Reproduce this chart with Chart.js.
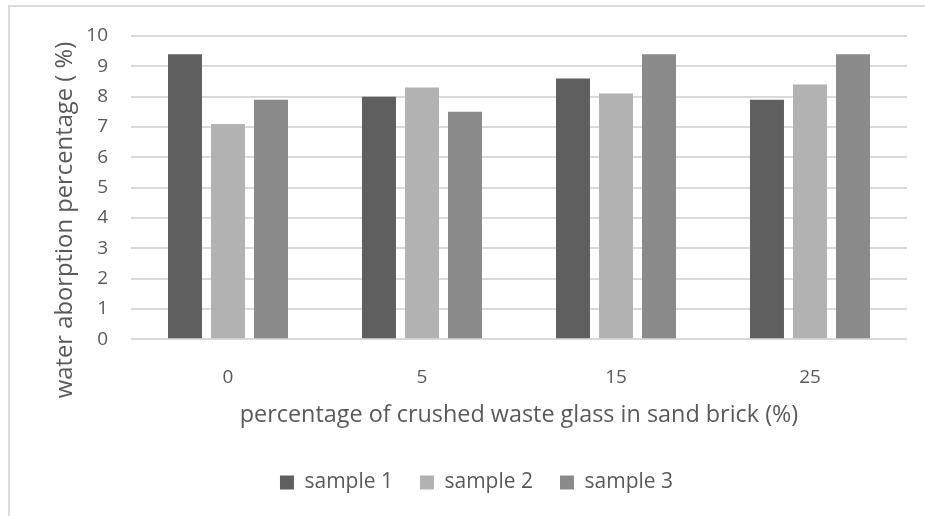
<!DOCTYPE html>
<html>
<head>
<meta charset="utf-8">
<script src="https://cdn.jsdelivr.net/npm/chart.js@4.4.1/dist/chart.umd.min.js"></script>
<style>
  html, body { margin: 0; padding: 0; background: #fff; }
  #wrap { position: relative; width: 925px; height: 516px; overflow: hidden; }
  #frame { position: absolute; left: 8px; top: 5px; width: 940px; height: 540px;
           border-left: 2px solid #dcdcdc; border-top: 2px solid #dcdcdc; box-sizing: border-box; }
  canvas { position: absolute; left: 0; top: 0; }
</style>
</head>
<body>
<div id="wrap">
  <div id="frame"></div>
  <canvas id="c" width="925" height="516"></canvas>
</div>
<script>
const categories = ["0", "5", "15", "25"];
const sample1 = [9.4, 8.0, 8.6, 7.9];
const sample2 = [7.1, 8.3, 8.1, 8.4];
const sample3 = [7.9, 7.5, 9.4, 9.4];
const seriesNames = ["sample 1", "sample 2", "sample 3"];
const yTicks = [0, 1, 2, 3, 4, 5, 6, 7, 8, 9, 10];
const xTitle = "percentage of crushed waste glass in sand brick (%)";
const yTitle = "water aborption percentage ( %)";

const FONT = "'Open Sans', sans-serif";
const TEXT = "#595959";

const titlesPlugin = {
  id: 'axisTitles',
  afterDraw(chart) {
    const ctx = chart.ctx;
    const area = chart.chartArea;
    ctx.save();
    ctx.font = "23.4px " + FONT;
    ctx.fillStyle = TEXT;
    ctx.textAlign = 'center';
    ctx.textBaseline = 'middle';
    ctx.fillText(xTitle, (area.left + area.right) / 2, area.bottom + 76);
    ctx.font = "23.8px " + FONT;
    ctx.translate(65, area.top + 184);
    ctx.rotate(-Math.PI / 2);
    ctx.fillText(yTitle, 0, 0);
    ctx.restore();
  }
};

new Chart(document.getElementById('c'), {
  type: 'bar',
  data: {
    labels: categories,
    datasets: [
      { label: seriesNames[0], data: sample1, backgroundColor: '#5f5f5f', borderWidth: 0 },
      { label: seriesNames[1], data: sample2, backgroundColor: '#b2b2b2', borderWidth: 0 },
      { label: seriesNames[2], data: sample3, backgroundColor: '#8a8a8a', borderWidth: 0 }
    ]
  },
  options: {
    responsive: false,
    animation: false,
    devicePixelRatio: 1,
    layout: { padding: { left: 46, right: 18, top: 36, bottom: 13 } },
    datasets: { bar: { categoryPercentage: 0.665, barPercentage: 0.79 } },
    scales: {
      x: {
        afterFit(scale) { scale.height += 29; },
        grid: { display: false, drawTicks: false },
        border: { display: false },
        ticks: { color: TEXT, font: { family: FONT, size: 19 }, padding: 27 }
      },
      y: {
        min: 0, max: 10,
        afterBuildTicks(scale) { scale.ticks = yTicks.map(v => ({ value: v })); },
        afterFit(scale) { scale.width = 85; },
        grid: { color: '#d9d9d9', lineWidth: 2, drawTicks: false },
        border: { display: false },
        ticks: { color: TEXT, font: { family: FONT, size: 19 }, padding: 23 }
      }
    },
    plugins: {
      legend: {
        position: 'bottom',
        labels: { color: TEXT, font: { family: FONT, size: 21 }, boxWidth: 14, boxHeight: 14, padding: 27 }
      },
      tooltip: { enabled: false }
    }
  },
  plugins: [titlesPlugin]
});
</script>
</body>
</html>
